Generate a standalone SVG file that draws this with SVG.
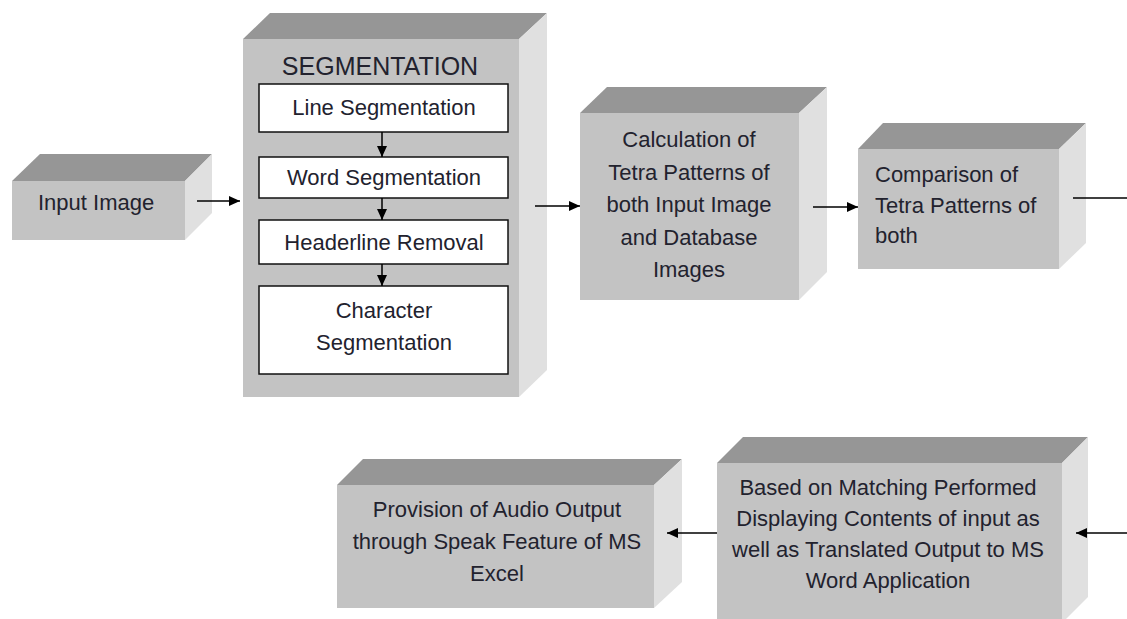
<svg xmlns="http://www.w3.org/2000/svg" width="1127" height="619" viewBox="0 0 1127 619">
  <style>
    .front { fill: #c3c3c3; }
    .top { fill: #969696; }
    .side { fill: #e0e0e0; }
    .inner { fill: #ffffff; stroke: #111111; stroke-width: 1.5; }
    .t { font-family: "Liberation Sans", Arial, sans-serif; font-size: 22px; fill: #22222e; }
    .c { text-anchor: middle; }
    .h { font-size: 25px; }
    .conn { stroke: #000000; stroke-width: 1.5; fill: none; }
  </style>
  <defs>
    <marker id="ah" markerUnits="userSpaceOnUse" markerWidth="12" markerHeight="10" refX="11" refY="5" orient="auto">
      <path d="M0,0 L11,5 L0,10 z" fill="#000000"/>
    </marker>
  </defs>
  <rect width="1127" height="619" fill="#ffffff"/>

  <g id="input-image">
    <polygon class="top" points="12,181 40,154 212,154 185,181"/>
    <polygon class="side" points="185,181 212,154 212,213 185,240"/>
    <rect class="front" x="12" y="181" width="173" height="59"/>
    <text class="t" x="38" y="210">Input Image</text>
  </g>

  <g id="segmentation">
    <polygon class="top" points="243,39 270,13 547,13 519,39"/>
    <polygon class="side" points="519,39 547,13 547,370 519,397"/>
    <rect class="front" x="243" y="39" width="276" height="358"/>
    <text class="t c h" x="380" y="75">SEGMENTATION</text>
    <g id="line-seg">
      <rect class="inner" x="259" y="84" width="249" height="48"/>
      <text class="t c" x="384" y="115">Line Segmentation</text>
    </g>
    <g id="word-seg">
      <rect class="inner" x="259" y="157" width="249" height="41"/>
      <text class="t c" x="384" y="185">Word Segmentation</text>
    </g>
    <g id="headerline">
      <rect class="inner" x="259" y="220" width="249" height="44"/>
      <text class="t c" x="384" y="250">Headerline Removal</text>
    </g>
    <g id="char-seg">
      <rect class="inner" x="259" y="286" width="249" height="88"/>
      <text class="t c" x="384" y="318">Character</text>
      <text class="t c" x="384" y="350">Segmentation</text>
    </g>
  </g>

  <g id="calculation">
    <polygon class="top" points="580,113 607,87 827,87 799,113"/>
    <polygon class="side" points="799,113 827,87 827,272 799,300"/>
    <rect class="front" x="580" y="113" width="219" height="187"/>
    <text class="t c" x="689" y="147">Calculation of</text>
    <text class="t c" x="689" y="180">Tetra Patterns of</text>
    <text class="t c" x="689" y="212">both Input Image</text>
    <text class="t c" x="689" y="245">and Database</text>
    <text class="t c" x="689" y="277">Images</text>
  </g>

  <g id="comparison">
    <polygon class="top" points="858,149 883,123 1086,123 1059,149"/>
    <polygon class="side" points="1059,149 1086,123 1086,243 1059,269"/>
    <rect class="front" x="858" y="149" width="201" height="120"/>
    <text class="t" x="875" y="182">Comparison of</text>
    <text class="t" x="875" y="213">Tetra Patterns of</text>
    <text class="t" x="875" y="243">both</text>
  </g>

  <g id="provision">
    <polygon class="top" points="337,485 363,459 682,459 654,485"/>
    <polygon class="side" points="654,485 682,459 682,582 654,608"/>
    <rect class="front" x="337" y="485" width="317" height="123"/>
    <text class="t c" x="497" y="517">Provision of Audio Output</text>
    <text class="t c" x="497" y="549">through Speak Feature of MS</text>
    <text class="t c" x="497" y="581">Excel</text>
  </g>

  <g id="display">
    <polygon class="top" points="717,463 743,437 1088,437 1062,463"/>
    <polygon class="side" points="1062,463 1088,437 1088,597 1062,623"/>
    <rect class="front" x="717" y="463" width="345" height="160"/>
    <text class="t c" x="888" y="495">Based on Matching Performed</text>
    <text class="t c" x="888" y="526">Displaying Contents of input as</text>
    <text class="t c" x="888" y="557">well as Translated Output to MS</text>
    <text class="t c" x="888" y="588">Word Application</text>
  </g>

  <g id="connectors">
    <line class="conn" x1="197" y1="201" x2="240" y2="201" marker-end="url(#ah)"/>
    <line class="conn" x1="382" y1="132" x2="382" y2="157" marker-end="url(#ah)"/>
    <line class="conn" x1="382" y1="198" x2="382" y2="220" marker-end="url(#ah)"/>
    <line class="conn" x1="382" y1="264" x2="382" y2="286" marker-end="url(#ah)"/>
    <line class="conn" x1="535" y1="206" x2="580" y2="206" marker-end="url(#ah)"/>
    <line class="conn" x1="813" y1="207" x2="858" y2="207" marker-end="url(#ah)"/>
    <line class="conn" x1="1073" y1="198" x2="1127" y2="198"/>
    <line class="conn" x1="1127" y1="533" x2="1076" y2="533" marker-end="url(#ah)"/>
    <line class="conn" x1="717" y1="533" x2="667" y2="533" marker-end="url(#ah)"/>
  </g>
</svg>
